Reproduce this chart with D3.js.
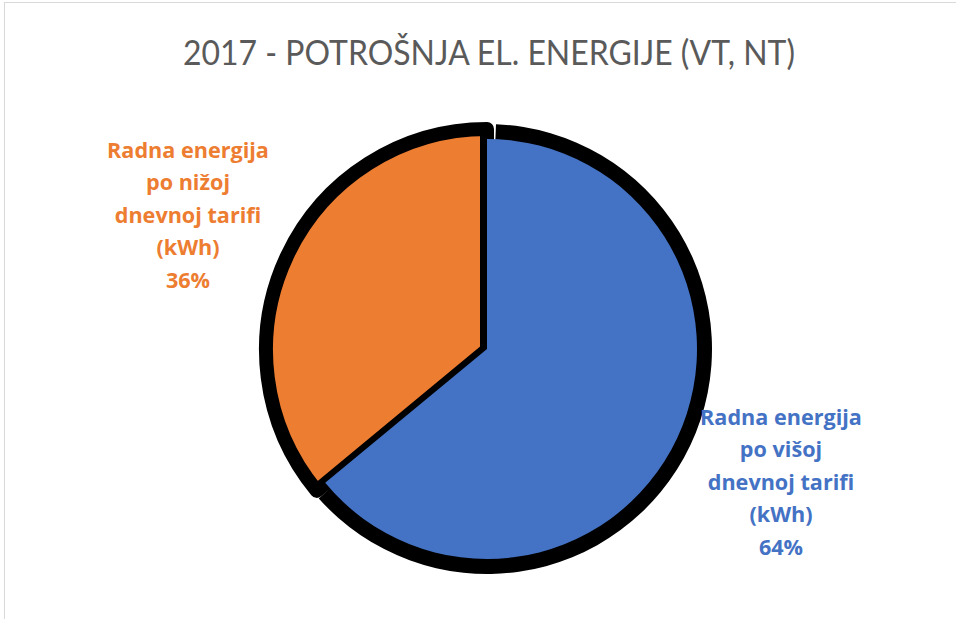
<!DOCTYPE html>
<html><head><meta charset="utf-8">
<script src="https://cdn.jsdelivr.net/npm/d3@7"></script>
<style>html,body{margin:0;padding:0;background:#fff;}svg{display:block;}</style>
</head><body>
<svg id="chart" width="956" height="619"></svg>
<script>
const title = "2017 - POTROŠNJA EL. ENERGIJE (VT, NT)";
const categories = ["Radna energija po višoj dnevnoj tarifi (kWh)", "Radna energija po nižoj dnevnoj tarifi (kWh)"];
const values = [64, 36];
const colors = ["#4472C4", "#ED7D31"];
const labelLines = [
  ["Radna energija", "po višoj", "dnevnoj tarifi", "(kWh)", "64%"],
  ["Radna energija", "po nižoj", "dnevnoj tarifi", "(kWh)", "36%"]
];

const svg = d3.select("#chart");
svg.append("rect").attr("x", 4.5).attr("y", 2.5).attr("width", 1000).attr("height", 700)
  .attr("fill", "#fff").attr("stroke", "#d9d9d9").attr("stroke-width", 1);

// title: tall narrow look, fitted to reference width
const tg = svg.append("g").attr("transform", "translate(489,65)");
const tt = tg.append("text").attr("text-anchor", "middle")
  .attr("font-family", "Lato, 'Open Sans', sans-serif").attr("font-size", 35)
  .attr("fill", "#5a5a5a").text(title);
const tw = tt.node().getComputedTextLength();
tt.attr("transform", `scale(${612 / tw},1)`);

const pie = d3.pie().sort(null).value(d => d)(values);
const cx = 487, cy = 349;

// orange slice with black outline
const gO = svg.append("g").attr("transform", `translate(${cx},${cy + 1})`);
gO.append("path").attr("d", d3.arc().innerRadius(0).outerRadius(221)(pie[1]))
  .attr("fill", colors[1]).attr("stroke", "#000").attr("stroke-width", 14)
  .attr("stroke-linejoin", "round");

// blue slice: outer black band then fill
const gB = svg.append("g").attr("transform", `translate(${cx},${cy})`);
gB.append("path").attr("d", d3.arc().innerRadius(205).outerRadius(225)
    .startAngle(pie[0].startAngle + 0.04).endAngle(pie[0].endAngle - 0.035)())
  .attr("fill", "#000");
gB.append("path").attr("d", d3.arc().innerRadius(0).outerRadius(210)(pie[0]))
  .attr("fill", colors[0]);

// labels
const labelPos = [[781, 425], [188, 158]];
labelLines.forEach((lines, i) => {
  const t = svg.append("text").attr("text-anchor", "middle")
    .attr("font-family", "'Open Sans', sans-serif").attr("font-weight", "bold")
    .attr("font-size", 20).attr("fill", colors[i]);
  lines.forEach((l, j) => {
    t.append("tspan").attr("x", labelPos[i][0]).attr("y", labelPos[i][1] + j * 32.4).text(l);
  });
  const w = t.select("tspan").node().getComputedTextLength();
  t.attr("font-size", 20 * 162 / w);
});
</script>
</body></html>
